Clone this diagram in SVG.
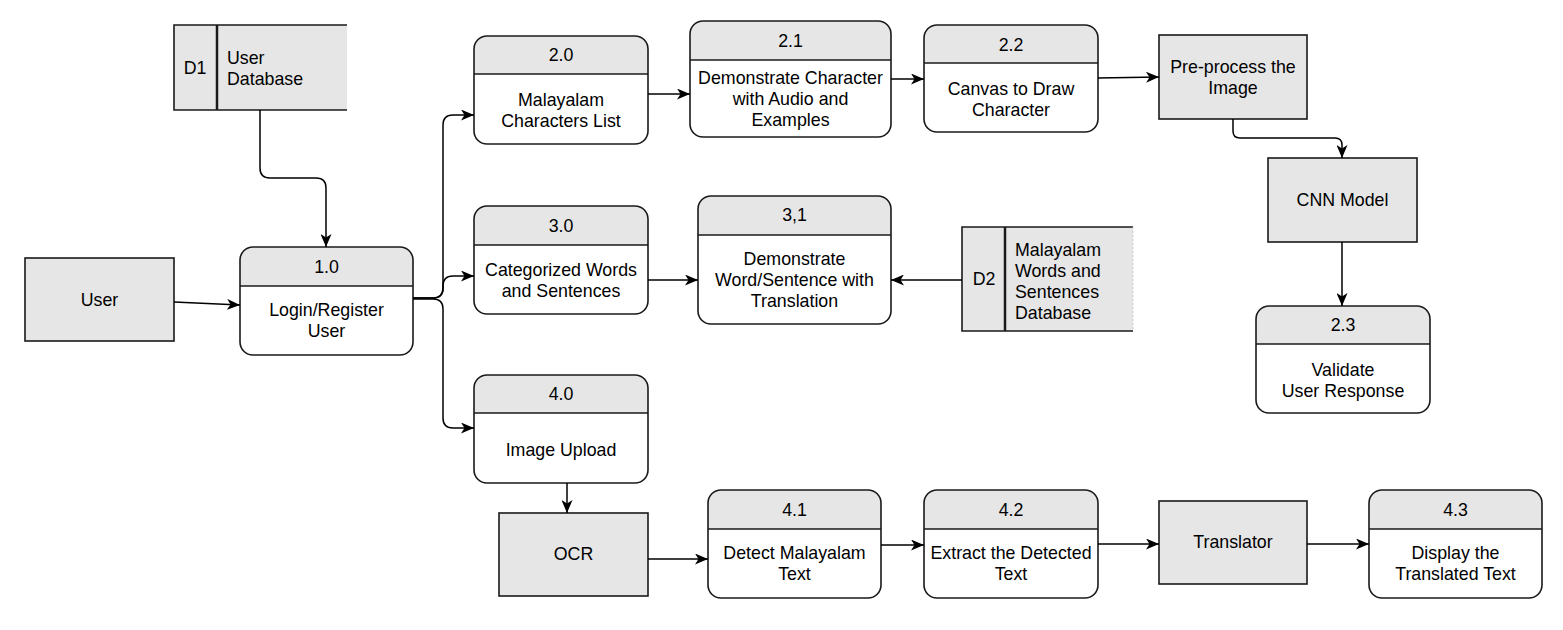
<svg xmlns="http://www.w3.org/2000/svg" width="1563" height="630" viewBox="0 0 1563 630">
<style>
  text { font-family: "Liberation Sans", Arial, sans-serif; font-size: 17.8px; fill: #000; }
  .c { text-anchor: middle; dominant-baseline: central; }
  .l { text-anchor: start; dominant-baseline: central; }
  .box { fill: #e6e6e6; stroke: #1a1a1a; stroke-width: 1.6; }
  .outer { fill: none; stroke: #1a1a1a; stroke-width: 1.6; }
  .body { fill: #ffffff; stroke: none; }
  .hdr { fill: #e6e6e6; stroke: none; }
  .sep { stroke: #1a1a1a; stroke-width: 1.6; }
  .div { stroke: #1a1a1a; stroke-width: 2.5; }
  .conn { fill: none; stroke: #000; stroke-width: 1.5; }
</style>
<defs>
  <marker id="arr" viewBox="0 0 13 11" refX="13" refY="5.5" markerWidth="13" markerHeight="11" markerUnits="userSpaceOnUse" orient="auto">
    <path d="M0,0 L13,5.5 L0,11 L3.5,5.5 Z" fill="#000"/>
  </marker>
</defs>
<rect width="1563" height="630" fill="#ffffff"/>

<g id="user">
  <rect class="box" x="25" y="258" width="149" height="83"/>
  <text class="c" x="99.5" y="299.5">User</text>
</g>

<g id="d1">
  <rect x="174" y="25" width="173" height="85" fill="#e6e6e6"/>
  <path class="outer" d="M347,25 H174 V110 H347"/>
  <line class="div" x1="217" y1="25" x2="217" y2="110"/>
  <text class="c" x="195" y="68">D1</text>
  <text class="l" x="227" y="58">User</text>
  <text class="l" x="227" y="79">Database</text>
</g>

<g id="p1_0">
  <rect class="body" x="240" y="247" width="173" height="108" rx="13"/>
  <path class="hdr" d="M240,286 V260 A13,13 0 0 1 253,247 H400 A13,13 0 0 1 413,260 V286 Z"/>
  <rect class="outer" x="240" y="247" width="173" height="108" rx="13"/>
  <line class="sep" x1="240" y1="286" x2="413" y2="286"/>
  <text class="c" x="326.5" y="267">1.0</text>
  <text class="c" x="326.5" y="310">Login/Register</text>
  <text class="c" x="326.5" y="331">User</text>
</g>

<g id="p2_0">
  <rect class="body" x="474" y="36" width="174" height="108" rx="13"/>
  <path class="hdr" d="M474,74 V49 A13,13 0 0 1 487,36 H635 A13,13 0 0 1 648,49 V74 Z"/>
  <rect class="outer" x="474" y="36" width="174" height="108" rx="13"/>
  <line class="sep" x1="474" y1="74" x2="648" y2="74"/>
  <text class="c" x="561" y="55">2.0</text>
  <text class="c" x="561" y="100">Malayalam</text>
  <text class="c" x="561" y="121">Characters List</text>
</g>

<g id="p2_1">
  <rect class="body" x="690" y="21" width="201" height="116" rx="13"/>
  <path class="hdr" d="M690,60 V34 A13,13 0 0 1 703,21 H878 A13,13 0 0 1 891,34 V60 Z"/>
  <rect class="outer" x="690" y="21" width="201" height="116" rx="13"/>
  <line class="sep" x1="690" y1="60" x2="891" y2="60"/>
  <text class="c" x="790.5" y="41">2.1</text>
  <text class="c" x="790.5" y="78">Demonstrate Character</text>
  <text class="c" x="790.5" y="99">with Audio and</text>
  <text class="c" x="790.5" y="120">Examples</text>
</g>

<g id="p2_2">
  <rect class="body" x="924" y="25" width="174" height="107" rx="13"/>
  <path class="hdr" d="M924,63 V38 A13,13 0 0 1 937,25 H1085 A13,13 0 0 1 1098,38 V63 Z"/>
  <rect class="outer" x="924" y="25" width="174" height="107" rx="13"/>
  <line class="sep" x1="924" y1="63" x2="1098" y2="63"/>
  <text class="c" x="1011" y="45">2.2</text>
  <text class="c" x="1011" y="89">Canvas to Draw</text>
  <text class="c" x="1011" y="110">Character</text>
</g>

<g id="preprocess">
  <rect class="box" x="1159" y="35" width="148" height="84"/>
  <text class="c" x="1233" y="67">Pre-process the</text>
  <text class="c" x="1233" y="88">Image</text>
</g>

<g id="cnn">
  <rect class="box" x="1268" y="158" width="149" height="84"/>
  <text class="c" x="1342.5" y="200">CNN Model</text>
</g>

<g id="p2_3">
  <rect class="body" x="1256" y="306" width="174" height="107" rx="13"/>
  <path class="hdr" d="M1256,344 V319 A13,13 0 0 1 1269,306 H1417 A13,13 0 0 1 1430,319 V344 Z"/>
  <rect class="outer" x="1256" y="306" width="174" height="107" rx="13"/>
  <line class="sep" x1="1256" y1="344" x2="1430" y2="344"/>
  <text class="c" x="1343" y="325">2.3</text>
  <text class="c" x="1343" y="370">Validate</text>
  <text class="c" x="1343" y="391">User Response</text>
</g>

<g id="p3_0">
  <rect class="body" x="474" y="206" width="174" height="108" rx="13"/>
  <path class="hdr" d="M474,245 V219 A13,13 0 0 1 487,206 H635 A13,13 0 0 1 648,219 V245 Z"/>
  <rect class="outer" x="474" y="206" width="174" height="108" rx="13"/>
  <line class="sep" x1="474" y1="245" x2="648" y2="245"/>
  <text class="c" x="561" y="226">3.0</text>
  <text class="c" x="561" y="270">Categorized Words</text>
  <text class="c" x="561" y="291">and Sentences</text>
</g>

<g id="p3_1">
  <rect class="body" x="698" y="196" width="193" height="128" rx="13"/>
  <path class="hdr" d="M698,235 V209 A13,13 0 0 1 711,196 H878 A13,13 0 0 1 891,209 V235 Z"/>
  <rect class="outer" x="698" y="196" width="193" height="128" rx="13"/>
  <line class="sep" x1="698" y1="235" x2="891" y2="235"/>
  <text class="c" x="794.5" y="215">3,1</text>
  <text class="c" x="794.5" y="259">Demonstrate</text>
  <text class="c" x="794.5" y="280">Word/Sentence with</text>
  <text class="c" x="794.5" y="301">Translation</text>
</g>

<g id="d2">
  <rect x="962" y="227" width="171" height="104" fill="#e6e6e6"/>
  <path class="outer" d="M1133,227 H962 V331 H1133"/>
  <line x1="1133" y1="227" x2="1133" y2="331" stroke="#cccccc" stroke-width="1" stroke-dasharray="2,2"/>
  <line class="div" x1="1005" y1="227" x2="1005" y2="331"/>
  <text class="c" x="984" y="279">D2</text>
  <text class="l" x="1015" y="250">Malayalam</text>
  <text class="l" x="1015" y="271">Words and</text>
  <text class="l" x="1015" y="292">Sentences</text>
  <text class="l" x="1015" y="313">Database</text>
</g>

<g id="p4_0">
  <rect class="body" x="474" y="375" width="174" height="108" rx="13"/>
  <path class="hdr" d="M474,413 V388 A13,13 0 0 1 487,375 H635 A13,13 0 0 1 648,388 V413 Z"/>
  <rect class="outer" x="474" y="375" width="174" height="108" rx="13"/>
  <line class="sep" x1="474" y1="413" x2="648" y2="413"/>
  <text class="c" x="561" y="394">4.0</text>
  <text class="c" x="561" y="450">Image Upload</text>
</g>

<g id="ocr">
  <rect class="box" x="499" y="513" width="149" height="83"/>
  <text class="c" x="573.5" y="554">OCR</text>
</g>

<g id="p4_1">
  <rect class="body" x="708" y="490" width="173" height="108" rx="13"/>
  <path class="hdr" d="M708,529 V503 A13,13 0 0 1 721,490 H868 A13,13 0 0 1 881,503 V529 Z"/>
  <rect class="outer" x="708" y="490" width="173" height="108" rx="13"/>
  <line class="sep" x1="708" y1="529" x2="881" y2="529"/>
  <text class="c" x="794.5" y="510">4.1</text>
  <text class="c" x="794.5" y="553">Detect Malayalam</text>
  <text class="c" x="794.5" y="574">Text</text>
</g>

<g id="p4_2">
  <rect class="body" x="924" y="490" width="174" height="108" rx="13"/>
  <path class="hdr" d="M924,529 V503 A13,13 0 0 1 937,490 H1085 A13,13 0 0 1 1098,503 V529 Z"/>
  <rect class="outer" x="924" y="490" width="174" height="108" rx="13"/>
  <line class="sep" x1="924" y1="529" x2="1098" y2="529"/>
  <text class="c" x="1011" y="510">4.2</text>
  <text class="c" x="1011" y="553">Extract the Detected</text>
  <text class="c" x="1011" y="574">Text</text>
</g>

<g id="translator">
  <rect class="box" x="1159" y="501" width="148" height="83"/>
  <text class="c" x="1233" y="542">Translator</text>
</g>

<g id="p4_3">
  <rect class="body" x="1369" y="490" width="173" height="108" rx="13"/>
  <path class="hdr" d="M1369,529 V503 A13,13 0 0 1 1382,490 H1529 A13,13 0 0 1 1542,503 V529 Z"/>
  <rect class="outer" x="1369" y="490" width="173" height="108" rx="13"/>
  <line class="sep" x1="1369" y1="529" x2="1542" y2="529"/>
  <text class="c" x="1455.5" y="510">4.3</text>
  <text class="c" x="1455.5" y="553">Display the</text>
  <text class="c" x="1455.5" y="574">Translated Text</text>
</g>

<g id="connectors">
  <path class="conn" marker-end="url(#arr)" d="M174,302 L240,305"/>
  <path class="conn" marker-end="url(#arr)" d="M260,110 V168 Q260,178 270,178 H316 Q326,178 326,188 V247"/>
  <path class="conn" marker-end="url(#arr)" d="M413,298 H433 Q443,298 443,288 V125 Q443,115 453,115 H474"/>
  <path class="conn" marker-end="url(#arr)" d="M413,298 H433 Q443,298 443,288 V286 Q443,276 453,276 H474"/>
  <path class="conn" marker-end="url(#arr)" d="M413,299 H433 Q443,299 443,309 V418 Q443,428 453,428 H474"/>
  <path class="conn" marker-end="url(#arr)" d="M648,94 H690"/>
  <path class="conn" marker-end="url(#arr)" d="M891,79 H924"/>
  <path class="conn" marker-end="url(#arr)" d="M1098,78 L1159,77"/>
  <path class="conn" marker-end="url(#arr)" d="M1233,119 V131 Q1233,138 1240,138 H1335 Q1342,138 1342,145 V158"/>
  <path class="conn" marker-end="url(#arr)" d="M1342,242 V306"/>
  <path class="conn" marker-end="url(#arr)" d="M648,280 H698"/>
  <path class="conn" marker-end="url(#arr)" d="M962,280 H891"/>
  <path class="conn" marker-end="url(#arr)" d="M567,483 V513"/>
  <path class="conn" marker-end="url(#arr)" d="M648,559 H708"/>
  <path class="conn" marker-end="url(#arr)" d="M881,545 H924"/>
  <path class="conn" marker-end="url(#arr)" d="M1098,544 H1159"/>
  <path class="conn" marker-end="url(#arr)" d="M1307,544 H1369"/>
</g>
</svg>
